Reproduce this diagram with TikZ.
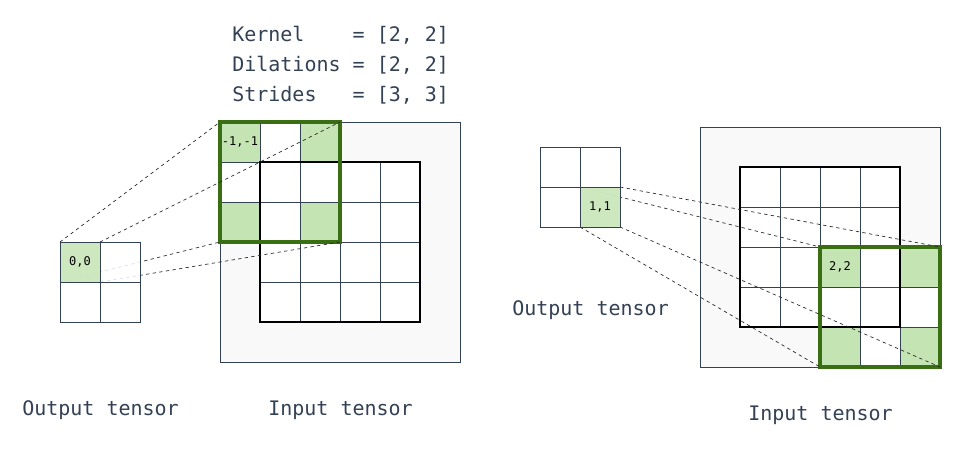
\documentclass[tikz,border=0pt]{standalone}
\usepackage{fontspec}
\setmonofont{DejaVu Sans Mono}
\usetikzlibrary{positioning}

\definecolor{slate}{HTML}{334155}
\definecolor{kgreen}{HTML}{C5E4B4}
\definecolor{kborder}{HTML}{3A6E12}
\definecolor{padfill}{HTML}{F9F9F9}

\begin{document}
\begin{tikzpicture}[
    x=0.75pt, y=-0.75pt,
    % grid cell style
    cell/.style={
        rectangle,
        draw=slate,
        fill=white,
        line width=0.75pt,
        minimum size=30pt,
        inner sep=0pt,
        outer sep=0pt,
        font=\ttfamily\fontsize{9}{10}\selectfont,
        text=black
    },
    % padded input area
    padarea/.style={
        rectangle,
        draw=slate,
        fill=padfill,
        line width=0.75pt,
        minimum size=180pt,
        inner sep=0pt,
        outer sep=0pt
    },
    % unpadded input border
    inbox/.style={
        rectangle,
        draw=black,
        line width=1.7pt,
        minimum size=120pt,
        inner sep=0pt,
        outer sep=0pt
    },
    % kernel window border
    window/.style={
        rectangle,
        draw=kborder,
        line width=2.6pt,
        minimum size=90pt,
        inner sep=0pt,
        outer sep=0pt
    },
    proj/.style={
        dashed,
        dash pattern=on 2.5pt off 2.5pt,
        line width=0.5pt,
        black!85
    },
    label/.style={
        font=\ttfamily\fontsize{15}{18}\selectfont,
        text=slate,
        inner sep=0pt
    }
]
\useasboundingbox (0,0) rectangle (963,458);

% === Parameters ===
\node[label, anchor=base west] (kern) at (232,41) {Kernel\ \ \ \ = [2, 2]};
\node[label, anchor=base west] (dil) at (232,71) {Dilations = [2, 2]};
\node[label, anchor=base west] (strd) at (232,101) {Strides\ \ \ = [3, 3]};

% === Left: input tensor ===
\node[padarea] (pad1) at (340,242) {};
\foreach \i in {0,...,3}
    \foreach \j in {0,...,3}
        \node[cell] (in1-\i-\j) at (280+40*\i,182+40*\j) {};
\foreach \i in {0,1,2}
    \foreach \j in {0,1,2} {
        \pgfmathtruncatemacro\k{mod(\i,2)+mod(\j,2)}
        \ifnum\k=0 \def\c{kgreen}\else\def\c{white}\fi
        \node[cell, fill=\c] (w1-\i-\j) at (240+40*\i,142+40*\j) {};
    }
\node[font=\ttfamily\fontsize{9}{10}\selectfont, inner sep=0pt] (lbl1) at (w1-0-0) {-1,-1};
\node[inbox] (inner1) at (340,242) {};
\node[window] (win1) at (280,182) {};

% === Left: projection ===
\draw[proj] (80-20,262-20) coordinate (o1nw) -- (win1.north west);
\draw[proj] (80+20,262-20) coordinate (o1ne) -- (win1.north east);
\draw[proj] (80-20,262+20) coordinate (o1sw) -- (win1.south west);
\draw[proj] (80+20,262+20) coordinate (o1se) -- (win1.south east);

% === Left: output tensor ===
\foreach \i in {0,1}
    \foreach \j in {0,1}
        \node[cell, fill opacity=0.85, text opacity=1] (out1-\i-\j) at (80+40*\i,262+40*\j) {};
\node[cell, fill=kgreen, fill opacity=0.85, text opacity=1] (o1) at (out1-0-0) {0,0};

\node[label, anchor=base west] (outlbl1) at (22,415) {Output tensor};
\node[label, anchor=base west] (inlbl1) at (268,415) {Input tensor};

% === Right: input tensor ===
\node[padarea] (pad2) at (820,247) {};
\foreach \i in {0,...,3}
    \foreach \j in {0,...,3}
        \node[cell] (in2-\i-\j) at (760+40*\i,187+40*\j) {};
\foreach \i in {0,1,2}
    \foreach \j in {0,1,2} {
        \pgfmathtruncatemacro\k{mod(\i,2)+mod(\j,2)}
        \ifnum\k=0 \def\c{kgreen}\else\def\c{white}\fi
        \node[cell, fill=\c] (w2-\i-\j) at (840+40*\i,267+40*\j) {};
    }
\node[font=\ttfamily\fontsize{9}{10}\selectfont, inner sep=0pt] (lbl2) at (w2-0-0) {2,2};
\node[inbox] (inner2) at (820,247) {};
\node[window] (win2) at (880,307) {};

% === Right: projection ===
\draw[proj] (600-20,207-20) -- (win2.north west);
\draw[proj] (600+20,207-20) -- (win2.north east);
\draw[proj] (600-20,207+20) -- (win2.south west);
\draw[proj] (600+20,207+20) -- (win2.south east);

% === Right: output tensor ===
\foreach \i in {0,1}
    \foreach \j in {0,1}
        \node[cell, fill opacity=0.85, text opacity=1] (out2-\i-\j) at (560+40*\i,167+40*\j) {};
\node[cell, fill=kgreen, fill opacity=0.85, text opacity=1] (o2) at (out2-1-1) {1,1};

\node[label, anchor=base west] (outlbl2) at (512,315) {Output tensor};
\node[label, anchor=base west] (inlbl2) at (748,420) {Input tensor};

\end{tikzpicture}
\end{document}
